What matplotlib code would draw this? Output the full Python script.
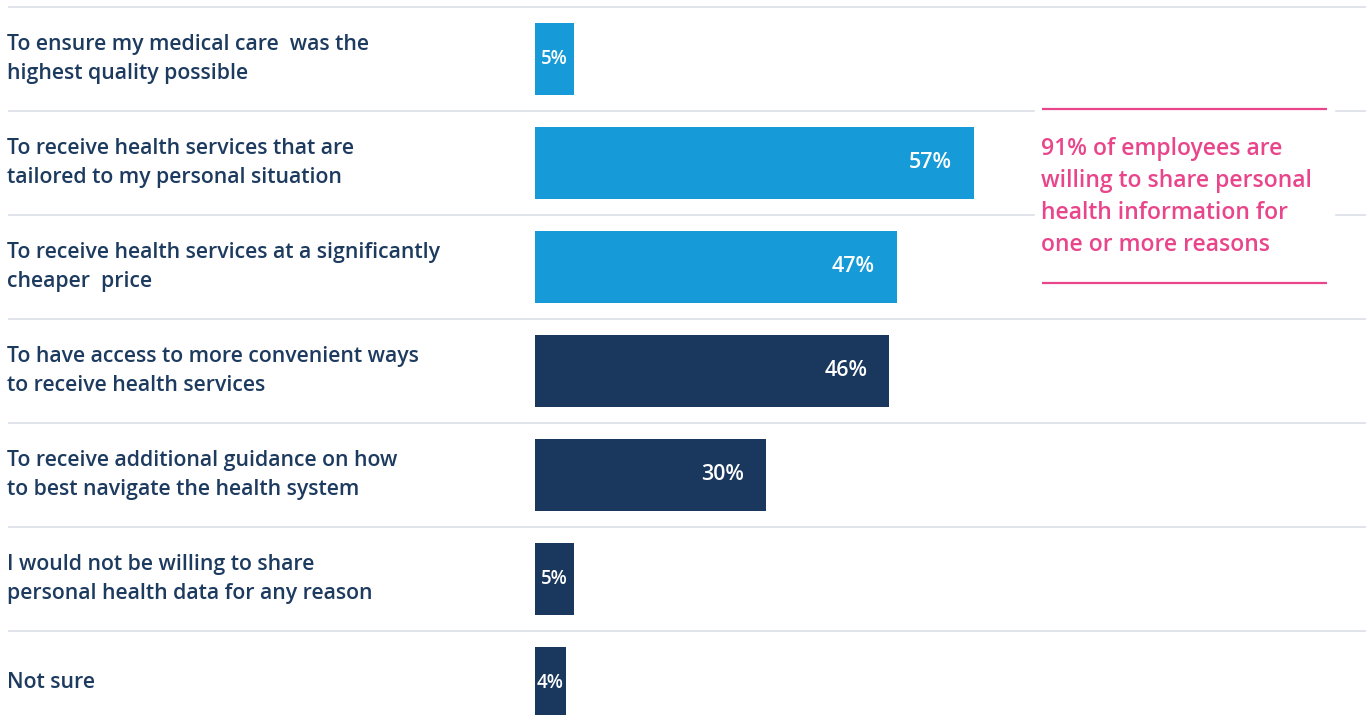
import matplotlib.pyplot as plt
import matplotlib.patches as mpatches

plt.rcParams['font.family'] = ['Open Sans', 'DejaVu Sans']

# survey answers, top to bottom
reasons = [
    "To ensure my medical care  was the\nhighest quality possible",
    "To receive health services that are\ntailored to my personal situation",
    "To receive health services at a significantly\ncheaper  price",
    "To have access to more convenient ways\nto receive health services",
    "To receive additional guidance on how\nto best navigate the health system",
    "I would not be willing to share\npersonal health data for any reason",
    "Not sure",
]
values = [5, 57, 47, 46, 30, 5, 4]
callout = "91% of employees are\nwilling to share personal\nhealth information for\none or more reasons"

W, H = 1370, 715
light_blue = "#169bd8"
navy = "#1a375e"
text_navy = "#1d3a5f"
pink = "#e8458b"
grid_gray = "#dde1e7"

fig = plt.figure(figsize=(W / 100, H / 100), dpi=100)
ax = fig.add_axes([0, 0, 1, 1])
ax.axis("off")

# horizontal scale: pixels per percentage point, bars start at x=535px
ppp = 7.7
x0 = 535
ax.set_xlim(-x0 / ppp, (W - x0) / ppp)
row_h = 104
y0 = 59
ax.set_ylim((H - y0) / row_h, -y0 / row_h)

colors = [light_blue if i < 3 else navy for i in range(len(values))]
ax.barh(range(len(values)), values, height=72 / row_h, color=colors, zorder=2)

ytrans = ax.get_yaxis_transform()
for i in range(len(values)):
    ax.plot([8 / W, 1366 / W], [i - 0.5, i - 0.5], color=grid_gray, lw=1.3,
            transform=ytrans, zorder=1, solid_capstyle="butt")

for i, (lab, v) in enumerate(zip(reasons, values)):
    ax.text(7 / W, i, lab, transform=ytrans, ha="left", va="center",
            fontsize=15.3, color=text_navy, linespacing=1.5, fontweight="semibold")
    if v >= 10:
        ax.text(v - 22 / ppp, i, f"{v}%", ha="right", va="center",
                fontsize=15.5, color="white", zorder=3, fontweight="semibold")
    else:
        ax.text(v / 2, i, f"{v}%", ha="center", va="center",
                fontsize=13.5, color="white", zorder=3, fontweight="semibold")

# callout box on the right
ax.add_patch(mpatches.Rectangle((1035 / W, 1 - 292 / H), 299 / W, 190 / H,
                                transform=ax.transAxes, color="white", zorder=4))
for yp in (109, 283):
    ax.plot([1042 / W, 1327 / W], [1 - yp / H, 1 - yp / H], color=pink, lw=1.6,
            transform=ax.transAxes, zorder=5, solid_capstyle="butt")
ax.text(1041 / W, 1 - 197 / H, callout, transform=ax.transAxes, ha="left",
        va="center", fontsize=16.5, color=pink, linespacing=1.45, zorder=6,
        fontweight="semibold")

fig.savefig("out.png", dpi=100)
